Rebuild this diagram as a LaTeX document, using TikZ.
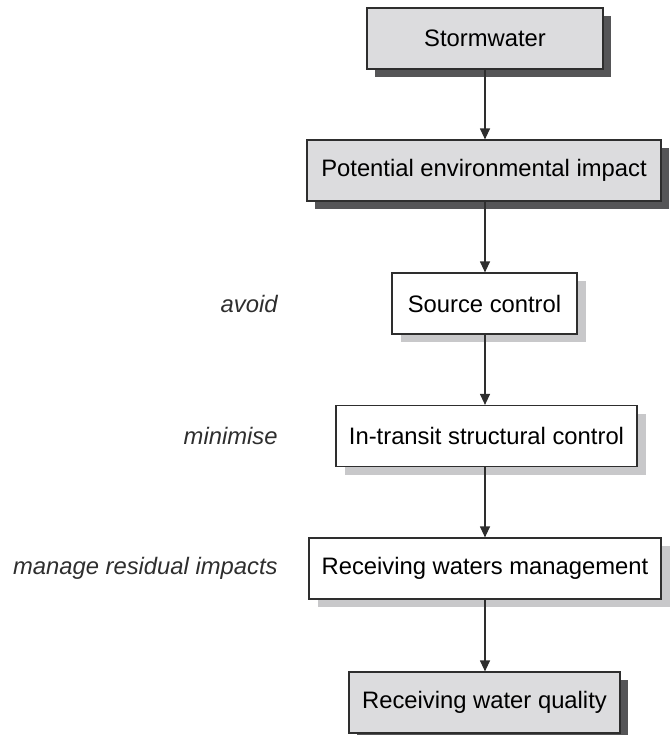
\documentclass[tikz,border=0pt]{standalone}
\usepackage{fontspec}
\setmainfont{Liberation Sans}
\usetikzlibrary{shadows,arrows.meta}
\definecolor{boxgrey}{HTML}{DCDCDE}
\definecolor{shadowdark}{HTML}{555557}
\definecolor{shadowlight}{HTML}{C8C8CA}
\definecolor{linegrey}{HTML}{2E2E2E}
\tikzset{
    flow-box/.style = {draw=linegrey, line width=0.6pt, rectangle, minimum height=30.5pt, inner sep=2pt, font=\fontsize{11.9}{14}\selectfont},
    grey-box/.style = {flow-box, fill=boxgrey, drop shadow={shadow xshift=4pt, shadow yshift=-4pt, fill=shadowdark, opacity=1}},
    white-box/.style = {flow-box, fill=white, drop shadow={shadow xshift=4.5pt, shadow yshift=-4pt, fill=shadowlight, opacity=1}},
    side-label/.style = {anchor=east, inner sep=0pt, font=\fontsize{11.9}{14}\selectfont\itshape, text=linegrey},
    flow-arrow/.style = {draw=linegrey, line width=0.6pt, -{Triangle[width=5pt,length=5.5pt]}},
}
\begin{document}
\begin{tikzpicture}[x=0.5pt, y=-0.5pt]
\useasboundingbox (0,0) rectangle (670,735);
\coordinate (lbl) at (278,0);
\node [grey-box, minimum width=118pt] (storm) at (485,38.5) {Stormwater};
\node [grey-box, minimum width=177pt] (impact) at (484,170.5) {Potential environmental impact};
\node [white-box, minimum width=92.5pt] (source) at (484.5,303.5) {Source control};
\node [white-box, minimum width=150.5pt] (transit) at (486.5,436) {In-transit structural control};
\node [white-box, minimum width=176pt] (manage) at (485,568.5) {Receiving waters management};
\node [grey-box, minimum width=135.5pt] (quality) at (484.5,702.5) {Receiving water quality};
% labels on the left
\node [side-label] (avoid) at (source -| lbl) {avoid};
\node [side-label] (minimise) at (transit -| lbl) {minimise};
\node [side-label] (residual) at (manage -| lbl) {manage residual impacts};
% arrows
\draw [flow-arrow] (storm.south) -- (storm.south |- impact.north);
\draw [flow-arrow] (storm.south |- impact.south) -- (storm.south |- source.north);
\draw [flow-arrow] (storm.south |- source.south) -- (storm.south |- transit.north);
\draw [flow-arrow] (storm.south |- transit.south) -- (storm.south |- manage.north);
\draw [flow-arrow] (storm.south |- manage.south) -- (storm.south |- quality.north);
\end{tikzpicture}
\end{document}
